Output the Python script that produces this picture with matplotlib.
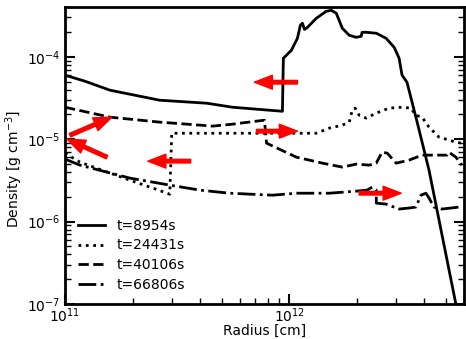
import matplotlib
matplotlib.use("Agg")
import matplotlib.pyplot as plt

# density profiles at four epochs (radius in cm, density in g/cm^3)
r_8954 = [1.00e11, 1.227e11, 1.585e11, 2.154e11, 2.64e11, 4.28e11, 5.58e11,
          9.31e11, 9.40e11, 1.021e12, 1.086e12, 1.119e12, 1.143e12, 1.167e12,
          1.191e12, 1.318e12, 1.459e12, 1.538e12, 1.618e12, 1.722e12, 1.849e12,
          1.986e12, 2.089e12, 2.109e12, 2.198e12, 2.438e12, 2.698e12, 2.931e12,
          3.083e12, 3.177e12, 3.342e12, 3.71e12, 4.19e12, 5.52e12, 5.8e12]
rho_8954 = [5.97e-5, 5.05e-5, 3.93e-5, 3.32e-5, 2.97e-5, 2.73e-5, 2.44e-5,
            2.18e-5, 9.59e-5, 1.20e-4, 1.675e-4, 2.41e-4, 2.55e-4, 2.15e-4,
            2.21e-4, 2.93e-4, 3.56e-4, 3.66e-4, 3.37e-4, 2.21e-4, 1.82e-4,
            1.72e-4, 1.77e-4, 1.98e-4, 1.98e-4, 1.93e-4, 1.675e-4, 1.30e-4,
            9.59e-5, 5.97e-5, 4.91e-5, 1.61e-5, 4.21e-6, 1.0e-7, 6.0e-8]

r_24431 = [1.00e11, 1.166e11, 1.945e11, 2.46e11, 2.93e11, 2.99e11, 1.107e12,
           1.318e12, 1.506e12, 1.722e12, 1.849e12, 1.905e12, 1.963e12, 2.046e12,
           2.198e12, 2.438e12, 2.78e12, 3.177e12, 3.48e12, 3.66e12, 3.90e12,
           4.19e12, 4.64e12, 5.52e12, 5.87e12]
rho_24431 = [6.76e-6, 5.26e-6, 3.18e-6, 2.55e-6, 2.15e-6, 1.18e-5, 1.18e-5,
             1.18e-5, 1.36e-5, 1.48e-5, 1.61e-5, 2.25e-5, 2.38e-5, 1.95e-5,
             1.80e-5, 2.07e-5, 2.38e-5, 2.44e-5, 2.38e-5, 1.95e-5, 1.85e-5,
             1.40e-5, 1.06e-5, 9.2e-6, 8.95e-6]

r_40106 = [1.00e11, 1.585e11, 2.64e11, 4.55e11, 5.58e11, 7.74e11, 7.91e11,
           1.074e12, 1.403e12, 1.722e12, 1.986e12, 2.27e12, 2.438e12, 2.59e12,
           2.73e12, 2.99e12, 3.41e12, 3.90e12, 5.04e12, 5.14e12, 5.52e12, 5.87e12]
rho_40106 = [2.44e-5, 1.85e-5, 1.61e-5, 1.44e-5, 1.52e-5, 1.70e-5, 8.95e-6,
             6.05e-6, 5.12e-6, 4.58e-6, 4.98e-6, 4.84e-6, 5.12e-6, 6.95e-6,
             6.76e-6, 5.12e-6, 5.56e-6, 6.40e-6, 6.40e-6, 6.95e-6, 6.05e-6, 4.84e-6]

r_66806 = [1.00e11, 1.166e11, 1.945e11, 2.93e11, 3.98e11, 5.41e11, 8.40e11,
           1.074e12, 1.506e12, 1.986e12, 2.22e12, 2.34e12, 2.438e12, 2.44e12,
           2.698e12, 3.083e12, 3.41e12, 3.66e12, 3.86e12, 4.06e12, 4.19e12,
           4.41e12, 4.79e12, 5.70e12, 5.93e12]
rho_66806 = [5.73e-6, 4.84e-6, 3.37e-6, 2.77e-6, 2.41e-6, 2.21e-6, 2.09e-6,
             2.21e-6, 2.21e-6, 2.34e-6, 2.41e-6, 2.62e-6, 2.41e-6, 1.675e-6,
             1.63e-6, 1.42e-6, 1.46e-6, 1.50e-6, 2.09e-6, 2.21e-6, 1.93e-6,
             1.50e-6, 1.42e-6, 1.50e-6, 1.50e-6]

labels = ["t=8954s", "t=24431s", "t=40106s", "t=66806s"]
styles = ["-", ":", "--", "-."]

# red arrows: (tail, head) in data coords
arrows = [((1.052e11, 1.117e-5), (1.618e11, 1.85e-5)),
          ((1.538e11, 6.05e-6), (1.021e11, 1.0e-5)),
          ((3.63e11, 5.41e-6), (2.34e11, 5.41e-6)),
          ((1.086e12, 4.91e-5), (6.98e11, 4.91e-5)),
          ((7.13e11, 1.25e-5), (1.086e12, 1.25e-5)),
          ((2.046e12, 2.21e-6), (3.15e12, 2.21e-6))]

fig = plt.figure(figsize=(4.66, 3.39), dpi=100)
ax = fig.add_axes([0.1395, 0.1032, 0.8562, 0.8758])

profiles = [(r_8954, rho_8954), (r_24431, rho_24431),
            (r_40106, rho_40106), (r_66806, rho_66806)]
for (r, rho), ls, lab in zip(profiles, styles, labels):
    ax.plot(r, rho, ls, color="k", lw=2, label=lab)

for tail, head in arrows:
    ax.annotate("", xy=head, xytext=tail,
                arrowprops=dict(facecolor="red", edgecolor="red", width=2.6,
                                headwidth=10, headlength=13, shrink=0))

ax.set_xscale("log")
ax.set_yscale("log")
ax.set_xlim(1e11, 6e12)
ax.set_ylim(1e-7, 4e-4)
ax.set_xlabel("Radius [cm]", fontsize=10)
ax.set_ylabel("Density [g cm$^{-3}$]", fontsize=10)
ax.xaxis.set_label_coords(0.5, -0.066)
ax.yaxis.set_label_coords(-0.10, 0.455)

for s in ax.spines.values():
    s.set_linewidth(2)
ax.tick_params(which="both", direction="in", right=True, top=False, labelsize=10)
ax.tick_params(which="major", length=7, width=1.5)
ax.tick_params(which="minor", length=4, width=1)
ax.tick_params(axis="x", which="both", pad=1.5)

ax.legend(loc="lower left", frameon=False, fontsize=10, labelspacing=0.4)

fig.savefig("out.png", dpi=100)
